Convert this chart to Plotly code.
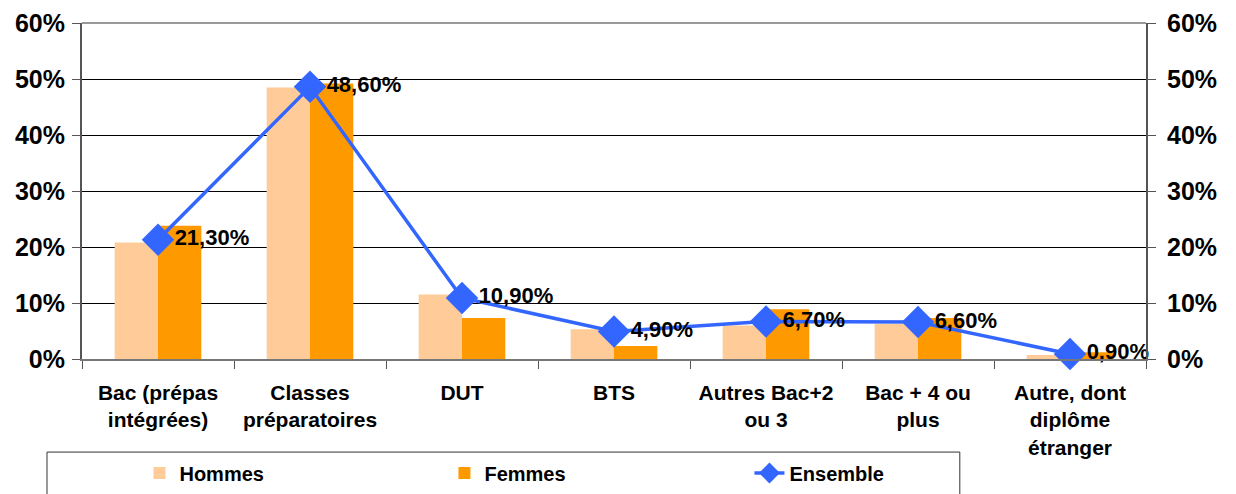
import plotly.graph_objects as go

categories = ["Bac (prépas<br>intégrées)", "Classes<br>préparatoires", "DUT", "BTS",
              "Autres Bac+2<br>ou 3", "Bac + 4 ou<br>plus", "Autre, dont<br>diplôme<br>étranger"]
hommes = [0.208, 0.485, 0.115, 0.053, 0.060, 0.063, 0.007]
femmes = [0.238, 0.492, 0.073, 0.023, 0.089, 0.073, 0.012]
ensemble = [0.213, 0.486, 0.109, 0.049, 0.067, 0.066, 0.009]

labels = [f"{v*100:.2f}".replace(".", ",") + "%" for v in ensemble]

FONT = "Liberation Sans, Arial, sans-serif"

fig = go.Figure()
fig.add_trace(go.Bar(x=categories, y=hommes, name="<b>Hommes</b>", marker_color="#FFCC99",
                     marker_line_width=0))
fig.add_trace(go.Bar(x=categories, y=femmes, name="<b>Femmes</b>", marker_color="#FF9900",
                     marker_line_width=0))
fig.add_trace(go.Scatter(x=categories, y=ensemble, name="<b>Ensemble</b>", mode="lines+markers+text",
                         line=dict(color="#3366FF", width=3.5),
                         marker=dict(symbol="diamond", size=25, color="#3366FF"),
                         text=["<b>" + t + "</b>" for t in labels], textposition="middle right",
                         textfont=dict(family=FONT, size=22, color="black"), cliponaxis=False))
fig.add_trace(go.Scatter(x=categories, y=ensemble, yaxis="y2", mode="markers",
                         marker=dict(opacity=0), showlegend=False, hoverinfo="skip"))

fig.update_layout(
    width=1228, height=486,
    margin=dict(l=74, r=90, t=15, b=135),
    paper_bgcolor="white", plot_bgcolor="white",
    barmode="group", bargap=0.43, bargroupgap=0,
    font=dict(family=FONT, color="black"),
    xaxis=dict(tickson="boundaries", ticks="outside", ticklen=8, tickcolor="#555555",
               showline=True, linecolor="#777777", linewidth=1.5, showgrid=False, automargin=False,
               ticklabelstandoff=14,
               tickfont=dict(size=21, family=FONT), tickprefix="<b>", ticksuffix="</b>"),
    yaxis=dict(range=[0, 0.6], dtick=0.1, tickformat=".0%", showgrid=True, gridcolor="black",
               gridwidth=1, showline=True, linecolor="#555555", linewidth=2, ticks="outside",
               ticklen=8, tickcolor="#555555", tickfont=dict(size=25, family=FONT), automargin=False,
               ticklabeloverflow="allow", ticklabelstandoff=2,
               tickprefix="<b>", ticksuffix="</b>", zeroline=False),
    yaxis2=dict(range=[0, 0.6], dtick=0.1, tickformat=".0%", overlaying="y", side="right",
                showgrid=False, showline=True, linecolor="#555555", linewidth=2, ticks="outside",
                ticklen=8, tickcolor="#555555", tickfont=dict(size=25, family=FONT), automargin=False,
                ticklabeloverflow="allow", ticklabelstandoff=6,
                tickprefix="<b>", ticksuffix="</b>", zeroline=False),
    legend=dict(orientation="h", x=0.054, xanchor="left", yref="container", y=0.0432,
                yanchor="middle",
                entrywidth=260, font=dict(size=20, family=FONT), bgcolor="rgba(0,0,0,0)",
                traceorder="normal"),
    shapes=[dict(type="rect", xref="paper", yref="paper", x0=-0.0329, x1=0.825, y0=-0.45, y1=-0.277,
                 line=dict(color="#333333", width=1), fillcolor="rgba(0,0,0,0)", layer="below"),
            dict(type="line", xref="paper", yref="paper", x0=0, x1=1, y0=1, y1=1,
                 line=dict(color="#777777", width=1.5))],
)

fig.write_html("out.html")
